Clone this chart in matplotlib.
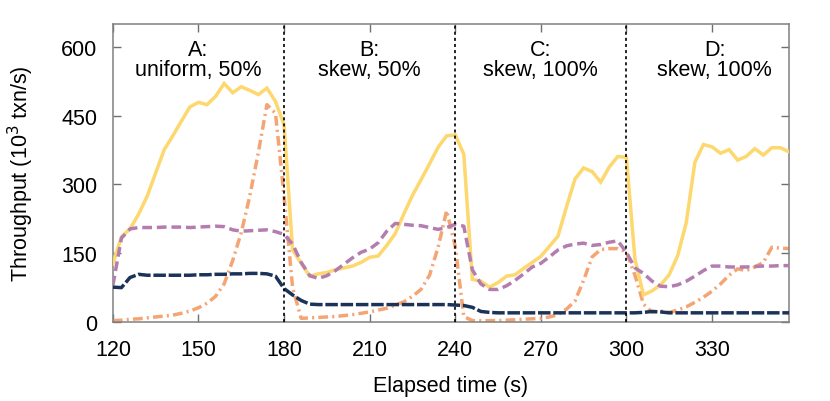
import numpy as np
import matplotlib
matplotlib.use("Agg")
import matplotlib.pyplot as plt

plt.rcParams['font.family'] = ['Liberation Sans', 'DejaVu Sans']
plt.rcParams['lines.scale_dashes'] = False

# elapsed time (s), sampled every 3 s
time_s = np.arange(120, 358, 3)

yellow_solid = [127, 186, 203, 235, 274, 325, 376, 406, 438, 469,
                479, 474, 492, 520, 500, 513, 505, 496, 510, 481,
                430, 157, 128, 100, 105, 108, 114, 118, 122, 130,
                141, 144, 167, 193, 236, 276, 310, 345, 381, 406,
                408, 366, 93, 89, 76, 86, 100, 103, 117, 130,
                143, 165, 187, 251, 312, 336, 328, 305, 338, 361,
                359, 137, 59, 68, 81, 103, 145, 217, 348, 387,
                382, 368, 376, 353, 361, 378, 364, 380, 380, 371]

purple_dashed = [80, 183, 203, 206, 206, 206, 207, 207, 207, 206,
                 207, 208, 209, 208, 201, 198, 199, 200, 201, 197,
                 191, 170, 130, 101, 95, 101, 112, 126, 140, 152,
                 159, 173, 198, 215, 213, 211, 210, 206, 202, 206,
                 213, 209, 114, 83, 71, 71, 79, 91, 105, 120,
                 128, 142, 157, 166, 170, 172, 167, 169, 174, 177,
                 152, 118, 106, 89, 78, 77, 81, 89, 100, 112,
                 122, 122, 120, 120, 120, 121, 122, 122, 123, 123]

navy_dashed = [76, 75, 97, 104, 102, 102, 102, 102, 102, 102,
               103, 103, 104, 104, 105, 105, 106, 106, 105, 100,
               73, 59, 47, 39, 38, 38, 38, 38, 38, 38,
               38, 38, 38, 38, 38, 38, 38, 38, 38, 38,
               37, 36, 32, 23, 21, 20, 20, 20, 20, 20,
               20, 20, 20, 20, 20, 20, 20, 20, 20, 20,
               20, 20, 21, 23, 22, 20, 20, 20, 20, 20,
               20, 20, 20, 20, 20, 20, 20, 20, 20, 20]

orange_dashdot = [3, 4, 6, 7, 9, 11, 13, 15, 19, 24,
                  31, 41, 56, 83, 134, 195, 275, 370, 474, 455,
                  275, 75, 8, 9, 10, 11, 12, 14, 16, 19,
                  22, 26, 30, 37, 44, 56, 71, 102, 163, 243,
                  165, 12, 3, 3, 3, 3, 4, 5, 6, 7,
                  8, 11, 16, 28, 46, 91, 142, 158, 160, 160,
                  153, 102, 39, 21, 24, 21, 26, 33, 43, 54,
                  67, 83, 102, 116, 112, 120, 130, 163, 161, 160]

phase_bounds = [180, 240, 300]
phase_centers = [150, 210, 270, 331]
phase_labels = ["A:\nuniform, 50%", "B:\nskew, 50%", "C:\nskew, 100%", "D:\nskew, 100%"]

x_ticks = [120, 150, 180, 210, 240, 270, 300, 330]
y_ticks = [0, 150, 300, 450, 600]

fig = plt.figure(figsize=(8.30, 4.02), dpi=100)
ax = fig.add_axes([0.136, 0.1965, 0.8146, 0.7415])

lw = 2.5
ax.plot(time_s, yellow_solid, color='#FDD86E', lw=lw, solid_joinstyle='miter', zorder=3)
ax.plot(time_s, purple_dashed, color='#B37DB0', lw=lw, dashes=(7, 3.5), zorder=4)
ax.plot(time_s, orange_dashdot, color='#F5A474', lw=lw, dashes=(7, 3, 1.5, 3), zorder=2)
ax.plot(time_s, navy_dashed, color='#1B3358', lw=lw, dashes=(9, 2), zorder=5)

for b in phase_bounds:
    ax.axvline(b, color='black', lw=1.2, dashes=(2.2, 2.2), zorder=6)

for xc, lab in zip(phase_centers, phase_labels):
    ax.text(xc, 572, lab, ha='center', va='center', fontsize=15.5,
            linespacing=0.95, zorder=7)

ax.set_xlim(120, 357)
ax.set_ylim(0, 650)
ax.set_xticks(x_ticks)
ax.set_yticks(y_ticks)
ax.tick_params(direction='in', length=6, width=1.0, color='#707070',
               labelsize=15.5, top=True, right=True)
ax.tick_params(axis='x', pad=12)
ax.tick_params(axis='y', pad=11)
for s in ax.spines.values():
    s.set_color('#808080')
    s.set_linewidth(1.1)

ax.set_xlabel("Elapsed time (s)", fontsize=15.5, labelpad=11)
ax.set_ylabel("Throughput (10$^3$ txn/s)", fontsize=15.5, labelpad=18)

fig.savefig("out.png", dpi=100)
